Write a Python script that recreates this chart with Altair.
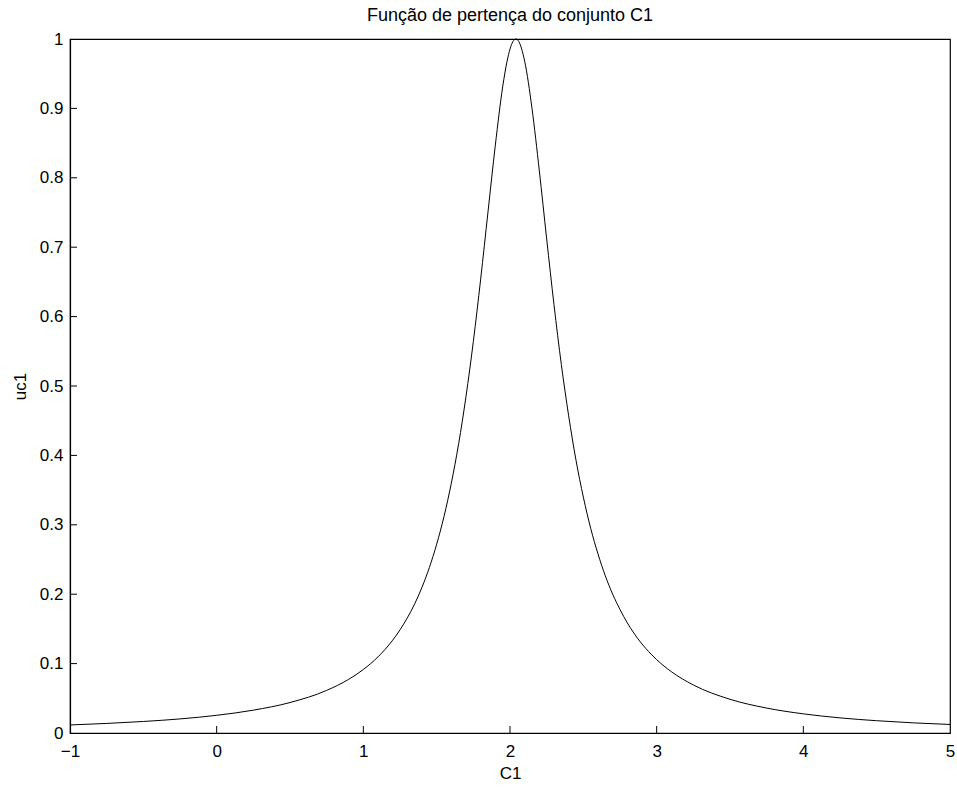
import altair as alt
import pandas as pd

# values
x_vals = [-1.0, -0.75, -0.5, -0.25, 0.0, 0.25, 0.5, 0.75, 0.9, 1.0, 1.1, 1.2, 1.25, 1.3, 1.35,
          1.4, 1.45, 1.5, 1.55, 1.6, 1.65, 1.7, 1.75, 1.8, 1.85, 1.9, 1.95, 1.98, 2.0, 2.02,
          2.04, 2.06, 2.1, 2.15, 2.2, 2.25, 2.3, 2.35, 2.4, 2.45, 2.5, 2.55, 2.6, 2.65, 2.7,
          2.75, 2.8, 2.85, 3.0, 3.1, 3.25, 3.5, 3.75, 4.0, 4.25, 4.5, 4.75, 5.0]
u_vals = [0.0116, 0.0138, 0.0166, 0.0203, 0.0255, 0.0329, 0.0439, 0.0614, 0.0773, 0.0915,
          0.1097, 0.1337, 0.1486, 0.1659, 0.186, 0.210, 0.2383, 0.272, 0.312, 0.360, 0.417,
          0.485, 0.564, 0.654, 0.751, 0.847, 0.931, 0.968, 0.9855, 0.9963, 1.0, 0.9963,
          0.968, 0.900, 0.810, 0.712, 0.617, 0.531, 0.457, 0.393, 0.340, 0.295, 0.258,
          0.2264, 0.200, 0.178, 0.1586, 0.1423, 0.1057, 0.0884, 0.0692, 0.0486, 0.0359,
          0.0276, 0.0218, 0.0177, 0.0146, 0.0123]

x_ticks = [-1, 0, 1, 2, 3, 4, 5]
y_ticks = [0, 0.1, 0.2, 0.3, 0.4, 0.5, 0.6, 0.7, 0.8, 0.9, 1]
x_inner = [0, 1, 2, 3, 4]
y_inner = [0.1, 0.2, 0.3, 0.4, 0.5, 0.6, 0.7, 0.8, 0.9]

W, H = 880, 694
FONT = "Liberation Sans"
TL = 7

df = pd.DataFrame({"x": x_vals, "u": u_vals})
xs = alt.Scale(domain=[-1, 5], nice=False, zero=False)
ys = alt.Scale(domain=[0, 1], nice=False, zero=False)

line = alt.Chart(df).mark_line(color="black", strokeWidth=1, interpolate="monotone").encode(
    x=alt.X("x:Q", scale=xs, title="C1",
            axis=alt.Axis(values=x_ticks, tickSize=0, labelPadding=10, labelFlush=False,
                          grid=False, titlePadding=6, format="d")),
    y=alt.Y("u:Q", scale=ys, title="uc1",
            axis=alt.Axis(values=y_ticks, tickSize=0, labelPadding=7, labelFlush=False,
                          grid=False, titlePadding=10,
                          labelExpr="datum.value == 0 ? '0' : datum.value == 1 ? '1' : format(datum.value, '.1f')")),
)

xt = alt.Chart(pd.DataFrame({"x": x_inner})).mark_rule(color="black", strokeWidth=1).encode(
    x=alt.X("x:Q", scale=xs), y=alt.value(H), y2=alt.value(H - TL)
)
yt = alt.Chart(pd.DataFrame({"u": y_inner})).mark_rule(color="black", strokeWidth=1).encode(
    y=alt.Y("u:Q", scale=ys), x=alt.value(0), x2=alt.value(TL)
)

chart = alt.layer(line, xt, yt).properties(
    width=W, height=H,
    background="white",
    title=alt.TitleParams("Função de pertença do conjunto C1", anchor="middle"),
    autosize=alt.AutoSizeParams(type="none"),
    padding={"left": 70, "top": 39, "right": 7, "bottom": 55},
).configure_view(stroke="black", strokeWidth=1.2).configure_axis(
    domainColor="black", domainWidth=1.2, labelFont=FONT, labelFontSize=17, labelColor="black",
    titleFont=FONT, titleFontSize=17, titleFontWeight="normal", titleColor="black",
).configure_title(
    font=FONT, fontSize=18, fontWeight="normal", color="black", offset=5
)

chart.save("out.html", embed_options={"renderer": "svg", "actions": False})
